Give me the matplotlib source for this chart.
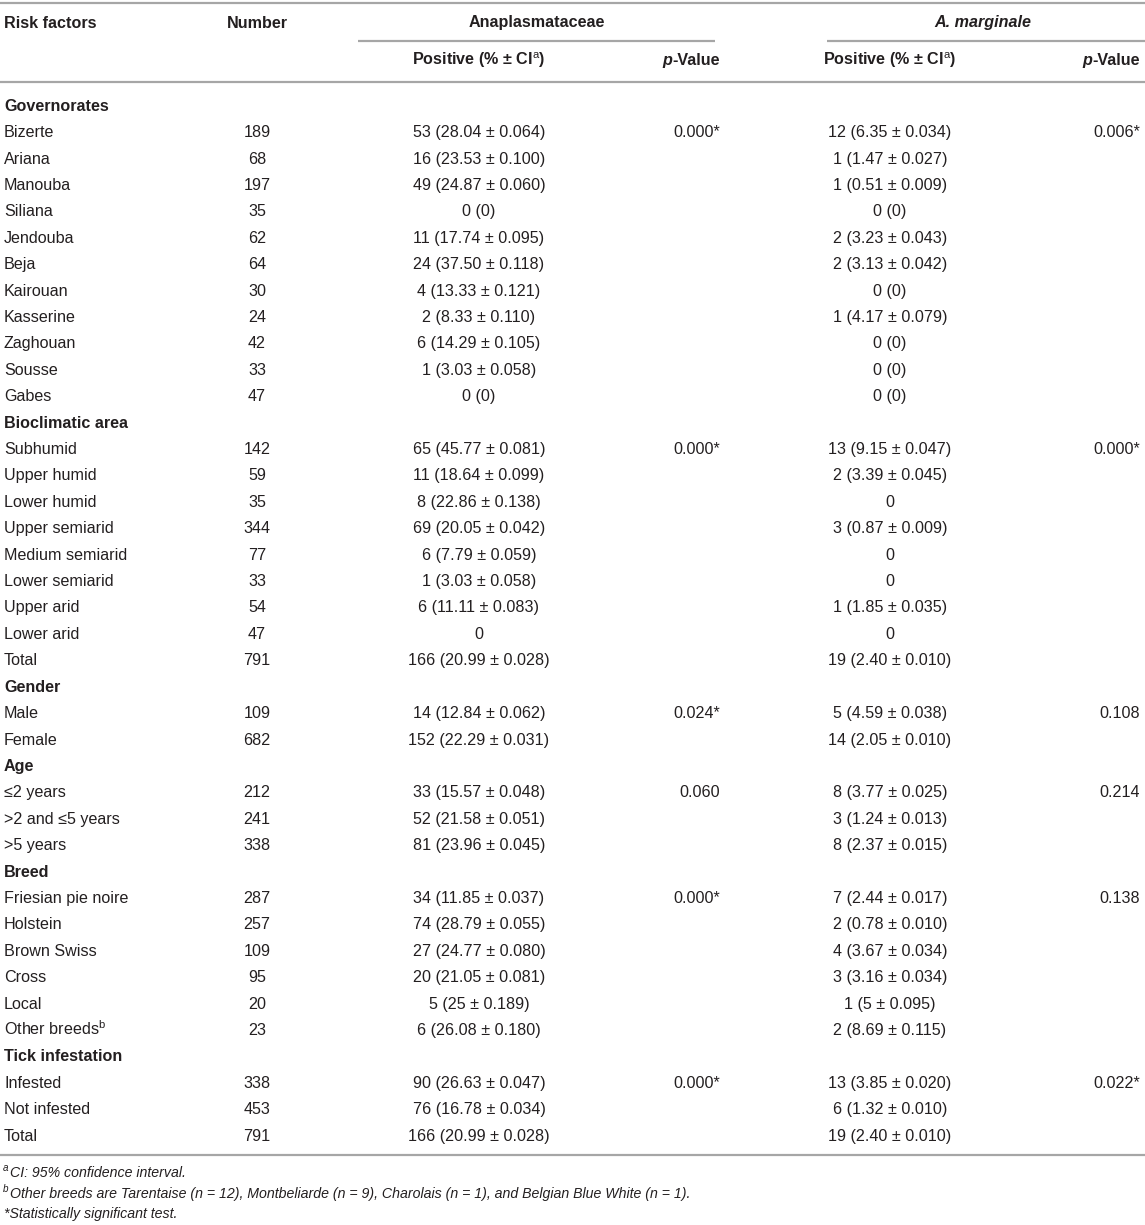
import matplotlib
matplotlib.use("Agg")
import matplotlib.pyplot as plt

plt.rcParams['font.family'] = ['Liberation Sans', 'DejaVu Sans']
plt.rcParams['mathtext.fontset'] = 'custom'
plt.rcParams['mathtext.rm'] = 'Liberation Sans'
plt.rcParams['mathtext.it'] = 'Liberation Sans:italic'
plt.rcParams['mathtext.bf'] = 'Liberation Sans:bold'

groups = ["Governorates", "Bioclimatic area", "Gender", "Age", "Breed", "Tick infestation"]

labels = ["Governorates", "Bizerte", "Ariana", "Manouba", "Siliana", "Jendouba", "Beja",
          "Kairouan", "Kasserine", "Zaghouan", "Sousse", "Gabes",
          "Bioclimatic area", "Subhumid", "Upper humid", "Lower humid", "Upper semiarid",
          "Medium semiarid", "Lower semiarid", "Upper arid", "Lower arid", "Total",
          "Gender", "Male", "Female",
          "Age", "\u22642 years", ">2 and \u22645 years", ">5 years",
          "Breed", "Friesian pie noire", "Holstein", "Brown Swiss", "Cross", "Local",
          "Other breeds$^{\\mathrm{b}}$",
          "Tick infestation", "Infested", "Not infested", "Total"]

numbers = ["", "189", "68", "197", "35", "62", "64", "30", "24", "42", "33", "47",
           "", "142", "59", "35", "344", "77", "33", "54", "47", "791",
           "", "109", "682",
           "", "212", "241", "338",
           "", "287", "257", "109", "95", "20", "23",
           "", "338", "453", "791"]

anap_pos = ["", "53 (28.04 \u00b1 0.064)", "16 (23.53 \u00b1 0.100)", "49 (24.87 \u00b1 0.060)",
            "0 (0)", "11 (17.74 \u00b1 0.095)", "24 (37.50 \u00b1 0.118)", "4 (13.33 \u00b1 0.121)",
            "2 (8.33 \u00b1 0.110)", "6 (14.29 \u00b1 0.105)", "1 (3.03 \u00b1 0.058)", "0 (0)",
            "", "65 (45.77 \u00b1 0.081)", "11 (18.64 \u00b1 0.099)", "8 (22.86 \u00b1 0.138)",
            "69 (20.05 \u00b1 0.042)", "6 (7.79 \u00b1 0.059)", "1 (3.03 \u00b1 0.058)",
            "6 (11.11 \u00b1 0.083)", "0", "166 (20.99 \u00b1 0.028)",
            "", "14 (12.84 \u00b1 0.062)", "152 (22.29 \u00b1 0.031)",
            "", "33 (15.57 \u00b1 0.048)", "52 (21.58 \u00b1 0.051)", "81 (23.96 \u00b1 0.045)",
            "", "34 (11.85 \u00b1 0.037)", "74 (28.79 \u00b1 0.055)", "27 (24.77 \u00b1 0.080)",
            "20 (21.05 \u00b1 0.081)", "5 (25 \u00b1 0.189)", "6 (26.08 \u00b1 0.180)",
            "", "90 (26.63 \u00b1 0.047)", "76 (16.78 \u00b1 0.034)", "166 (20.99 \u00b1 0.028)"]

anap_p = ["", "0.000*", "", "", "", "", "", "", "", "", "", "",
          "", "0.000*", "", "", "", "", "", "", "", "",
          "", "0.024*", "",
          "", "0.060", "", "",
          "", "0.000*", "", "", "", "", "",
          "", "0.000*", "", ""]

marg_pos = ["", "12 (6.35 \u00b1 0.034)", "1 (1.47 \u00b1 0.027)", "1 (0.51 \u00b1 0.009)", "0 (0)",
            "2 (3.23 \u00b1 0.043)", "2 (3.13 \u00b1 0.042)", "0 (0)", "1 (4.17 \u00b1 0.079)",
            "0 (0)", "0 (0)", "0 (0)",
            "", "13 (9.15 \u00b1 0.047)", "2 (3.39 \u00b1 0.045)", "0", "3 (0.87 \u00b1 0.009)",
            "0", "0", "1 (1.85 \u00b1 0.035)", "0", "19 (2.40 \u00b1 0.010)",
            "", "5 (4.59 \u00b1 0.038)", "14 (2.05 \u00b1 0.010)",
            "", "8 (3.77 \u00b1 0.025)", "3 (1.24 \u00b1 0.013)", "8 (2.37 \u00b1 0.015)",
            "", "7 (2.44 \u00b1 0.017)", "2 (0.78 \u00b1 0.010)", "4 (3.67 \u00b1 0.034)",
            "3 (3.16 \u00b1 0.034)", "1 (5 \u00b1 0.095)", "2 (8.69 \u00b1 0.115)",
            "", "13 (3.85 \u00b1 0.020)", "6 (1.32 \u00b1 0.010)", "19 (2.40 \u00b1 0.010)"]

marg_p = ["", "0.006*", "", "", "", "", "", "", "", "", "", "",
          "", "0.000*", "", "", "", "", "", "", "", "",
          "", "0.108", "",
          "", "0.214", "", "",
          "", "0.138", "", "", "", "", "",
          "", "0.022*", "", ""]

footnotes = ["CI: 95% confidence interval.",
             "Other breeds are Tarentaise (n = 12), Montbeliarde (n = 9), Charolais (n = 1), and Belgian Blue White (n = 1).",
             "*Statistically significant test."]
foot_marks = ["a", "b", ""]

W, H = 1145, 1225
fig = plt.figure(figsize=(W / 100, H / 100), dpi=100)
ax = fig.add_axes([0, 0, 1, 1])
ax.set_xlim(0, W)
ax.set_ylim(H, 0)
ax.axis('off')

TXT = '#231f20'
RULE = '#a6a6a6'
FS = 11.6

# column anchors
x_lab, x_num, x_ap, x_app, x_mp, x_mpp = 4, 257, 479, 720, 890, 1140

# rules
ax.plot([0, W], [3, 3], color=RULE, lw=1.6, solid_capstyle='butt')
ax.plot([358, 715], [41, 41], color=RULE, lw=1.6, solid_capstyle='butt')
ax.plot([827, W], [41, 41], color=RULE, lw=1.6, solid_capstyle='butt')
ax.plot([0, W], [82, 82], color=RULE, lw=1.6, solid_capstyle='butt')
ax.plot([0, W], [1155, 1155], color=RULE, lw=1.6, solid_capstyle='butt')

# headers (baseline-aligned)
hk = dict(fontsize=FS, color=TXT, fontweight='bold', va='baseline')
hy1, hy2 = 27.5, 65
ax.text(x_lab, hy1, "Risk factors", ha='left', **hk)
ax.text(x_num, hy1, "Number", ha='center', **hk)
ax.text(537, hy1, "Anaplasmataceae", ha='center', **hk)
ax.text(983, hy1, "A. marginale", ha='center', fontstyle='italic', **hk)
ax.text(x_ap, hy2, "Positive (% \u00b1 CI$^{\\mathrm{a}}$)", ha='center', **hk)
ax.text(x_mp, hy2, "Positive (% \u00b1 CI$^{\\mathrm{a}}$)", ha='center', **hk)

fig.canvas.draw()
renderer = fig.canvas.get_renderer()
for xr in (x_app, x_mpp):
    t = ax.text(xr, hy2, "-Value", ha='right', **hk)
    bb = t.get_window_extent(renderer=renderer)
    ax.text(xr - bb.width, hy2, "p", ha='right', fontstyle='italic', **hk)

# body (baseline-aligned)
y0, dy = 110.7, 26.41
dk = dict(fontsize=FS, color=TXT, va='baseline')
for i, lab in enumerate(labels):
    y = y0 + i * dy
    if lab in groups:
        ax.text(x_lab, y, lab, ha='left', fontweight='bold', **dk)
        continue
    ax.text(x_lab, y, lab, ha='left', **dk)
    ax.text(x_num, y, numbers[i], ha='center', **dk)
    ax.text(x_ap, y, anap_pos[i], ha='center', **dk)
    if anap_p[i]:
        ax.text(x_app, y, anap_p[i], ha='right', **dk)
    ax.text(x_mp, y, marg_pos[i], ha='center', **dk)
    if marg_p[i]:
        ax.text(x_mpp, y, marg_p[i], ha='right', **dk)

# footnotes
fy = [1177, 1198, 1218]
FFS = 10.2
for y, mark, note in zip(fy, foot_marks, footnotes):
    if mark:
        ax.text(3, y - 6, mark, ha='left', va='baseline', fontsize=FFS * 0.7,
                fontstyle='italic', color=TXT)
        ax.text(10, y, note, ha='left', va='baseline', fontsize=FFS,
                fontstyle='italic', color=TXT)
    else:
        ax.text(4, y, note, ha='left', va='baseline', fontsize=FFS,
                fontstyle='italic', color=TXT)

fig.savefig("out.png", dpi=100)
